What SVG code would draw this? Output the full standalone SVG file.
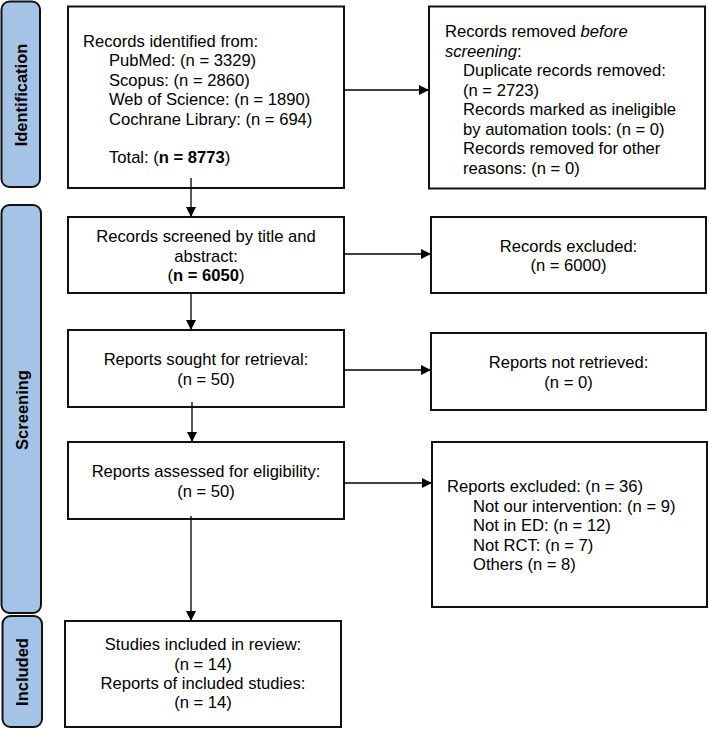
<svg xmlns="http://www.w3.org/2000/svg" width="709" height="729" viewBox="0 0 709 729">
<defs>
<marker id="ah" markerWidth="10" markerHeight="10" refX="9" refY="5" orient="auto" markerUnits="userSpaceOnUse">
<path d="M0,0 L10,5 L0,10 Z" fill="#000"/>
</marker>
<style>
.bar{fill:#a4c3e7;stroke:#111;stroke-width:2}
.box{fill:#fff;stroke:#111;stroke-width:2}
.t{font-family:"Liberation Sans",Arial,sans-serif;font-size:16.6px;fill:#000}
.c{text-anchor:middle}
.lab{font-family:"Liberation Sans",Arial,sans-serif;font-size:16.5px;font-weight:bold;fill:#000;text-anchor:middle}
.ln{stroke:#000;stroke-width:1.3;fill:none}
</style>
</defs>
<rect width="709" height="729" fill="#fff"/>
<g id="phase-identification">
<rect class="bar" x="1.5" y="1.5" width="38.5" height="185.5" rx="8"/>
<text class="lab" transform="translate(27,95) rotate(-90)">Identification</text>
</g>
<g id="phase-screening">
<rect class="bar" x="1.5" y="205" width="39.5" height="408" rx="8"/>
<text class="lab" transform="translate(28,410) rotate(-90)">Screening</text>
</g>
<g id="phase-included">
<rect class="bar" x="2.5" y="616" width="39.5" height="111" rx="8"/>
<text class="lab" transform="translate(28,672) rotate(-90)">Included</text>
</g>
<g id="identified">
<rect class="box" x="68" y="6.5" width="276" height="181.5"/>
<text class="t" x="83" y="46.5">Records identified from:</text>
<text class="t" x="109" y="66">PubMed: (n = 3329)</text>
<text class="t" x="109" y="85.5">Scopus: (n = 2860)</text>
<text class="t" x="109" y="105">Web of Science: (n = 1890)</text>
<text class="t" x="109" y="124.5">Cochrane Library: (n = 694)</text>
<text class="t" x="109" y="162.5">Total: (<tspan font-weight="bold">n = 8773</tspan>)</text>
</g>
<g id="removed">
<rect class="box" x="429" y="6.5" width="276" height="182"/>
<text class="t" x="445" y="37">Records removed <tspan font-style="italic">before</tspan></text>
<text class="t" x="445" y="56.5"><tspan font-style="italic">screening</tspan>:</text>
<text class="t" x="463" y="76">Duplicate records removed:</text>
<text class="t" x="463" y="95.5">(n = 2723)</text>
<text class="t" x="463" y="115">Records marked as ineligible</text>
<text class="t" x="463" y="134.5">by automation tools: (n = 0)</text>
<text class="t" x="463" y="154">Records removed for other</text>
<text class="t" x="463" y="173.5">reasons: (n = 0)</text>
</g>
<g id="screened">
<rect class="box" x="68" y="217" width="276" height="76"/>
<text class="t c" x="206" y="242">Records screened by title and</text>
<text class="t c" x="206" y="261.5">abstract:</text>
<text class="t c" x="206" y="281">(<tspan font-weight="bold">n = 6050</tspan>)</text>
</g>
<g id="excluded-records">
<rect class="box" x="431" y="217" width="275" height="76"/>
<text class="t c" x="568.5" y="251.5">Records excluded:</text>
<text class="t c" x="568.5" y="271">(n = 6000)</text>
</g>
<g id="sought">
<rect class="box" x="68" y="330" width="276" height="77"/>
<text class="t c" x="206" y="365">Reports sought for retrieval:</text>
<text class="t c" x="206" y="385">(n = 50)</text>
</g>
<g id="not-retrieved">
<rect class="box" x="431" y="333" width="275" height="77"/>
<text class="t c" x="568.5" y="368">Reports not retrieved:</text>
<text class="t c" x="568.5" y="388">(n = 0)</text>
</g>
<g id="assessed">
<rect class="box" x="68" y="442" width="276" height="77"/>
<text class="t c" x="206" y="477">Reports assessed for eligibility:</text>
<text class="t c" x="206" y="497">(n = 50)</text>
</g>
<g id="excluded-reports">
<rect class="box" x="432" y="442" width="275" height="165"/>
<text class="t" x="447" y="492">Reports excluded: (n = 36)</text>
<text class="t" x="473" y="511.5">Not our intervention: (n = 9)</text>
<text class="t" x="473" y="531">Not in ED: (n = 12)</text>
<text class="t" x="473" y="550.5">Not RCT: (n = 7)</text>
<text class="t" x="473" y="570">Others (n = 8)</text>
</g>
<g id="included">
<rect class="box" x="65" y="621" width="276" height="106"/>
<text class="t c" x="203" y="650">Studies included in review:</text>
<text class="t c" x="203" y="669.5">(n = 14)</text>
<text class="t c" x="203" y="688.5">Reports of included studies:</text>
<text class="t c" x="203" y="708">(n = 14)</text>
</g>
<g id="connectors">
<line class="ln" x1="191" y1="178" x2="191" y2="216" marker-end="url(#ah)"/>
<line class="ln" x1="344" y1="90" x2="428" y2="90" marker-end="url(#ah)"/>
<line class="ln" x1="191" y1="293" x2="191" y2="329" marker-end="url(#ah)"/>
<line class="ln" x1="344" y1="254" x2="430" y2="254" marker-end="url(#ah)"/>
<line class="ln" x1="192" y1="402" x2="192" y2="441" marker-end="url(#ah)"/>
<line class="ln" x1="344" y1="370" x2="430" y2="370" marker-end="url(#ah)"/>
<line class="ln" x1="191" y1="516" x2="191" y2="620" marker-end="url(#ah)"/>
<line class="ln" x1="344" y1="483" x2="431" y2="483" marker-end="url(#ah)"/>
</g>
</svg>
